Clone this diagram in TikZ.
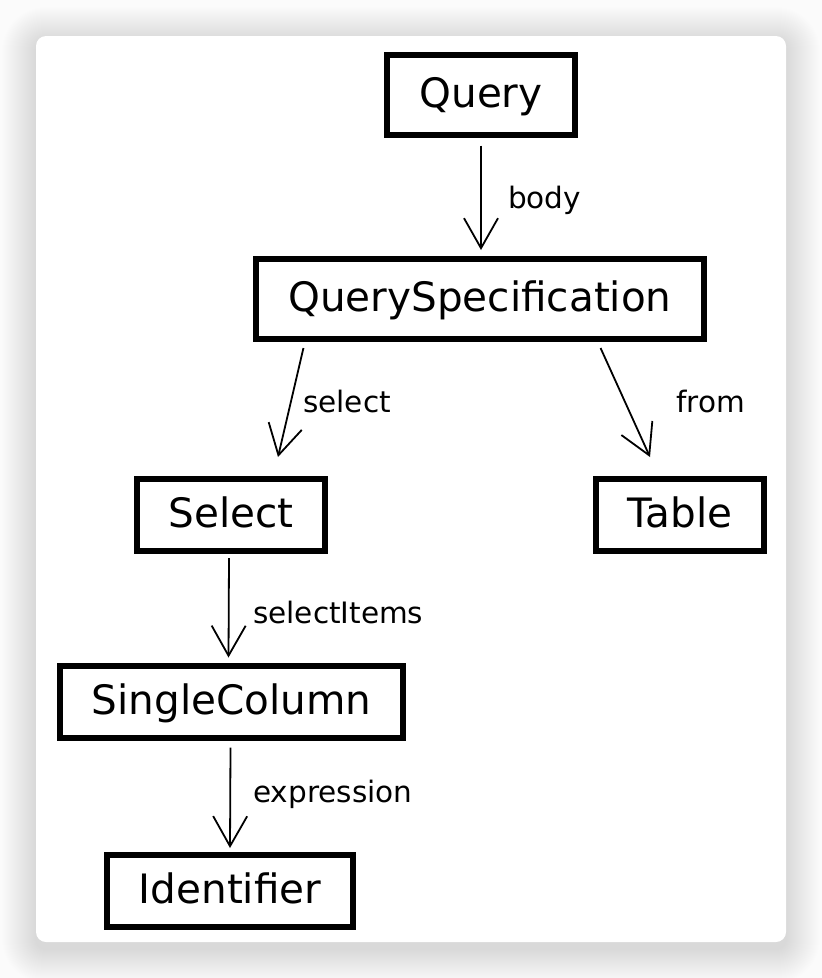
\documentclass[tikz,border=0pt]{standalone}
\usepackage{fontspec}
\setmainfont{DejaVu Sans}
\usetikzlibrary{arrows.meta,positioning,calc}

\begin{document}
\begin{tikzpicture}[
    x=1pt,
    y=-1pt,
    >={Straight Barb[length=30pt,width=34pt]},
    astnode/.style={draw, line width=6pt, fill=white, inner xsep=32pt, inner ysep=0pt,
      minimum height=72pt, text height=30pt, text depth=5pt,
      font=\fontsize{40.5}{48}\selectfont},
    edge/.style={->, line width=1.8pt},
    edgelbl/.style={anchor=base west, inner sep=0pt, font=\fontsize{29.5}{35}\selectfont},
  ]

  % === Page and card ===
  \useasboundingbox (0,0) rectangle (822,978);
  \fill[gray!3] (0,0) rectangle (822,978);
  \foreach \i in {1,...,34} {
    \pgfmathsetmacro\rr{10+\i}
    \fill[black, opacity=0.0042, rounded corners=\rr pt]
      ({36-\i},{41-\i}) rectangle ({786+\i},{949+\i});
  }
  \fill[white, rounded corners=10pt] (36,36) rectangle (786,942);

  % === AST nodes ===
  \node[astnode, minimum height=80pt] (query) at (481,94.5) {Query};
  \node[astnode, minimum height=80pt] (qspec) at (480,299) {QuerySpecification};
  \node[astnode] (sel) at (231,515) {Select};
  \node[astnode] (tbl) at (680,514.5) {Table};
  \node[astnode] (single) at (231.5,701.5) {SingleColumn};
  \node[astnode] (ident) at (230,890.5) {Identifier};

  % === Edges ===
  \draw[edge, shorten <=8pt, shorten >=6pt] (query) -- (query |- qspec.north);
  \draw[edge] ([xshift=50pt,yshift=-6pt]qspec.south west) -- ([xshift=47pt,yshift=19pt]sel.north);
  \draw[edge] ([xshift=-106pt,yshift=-6pt]qspec.south east) -- ([xshift=-30pt,yshift=18.5pt]tbl.north);
  \draw[edge] ([xshift=-2pt,yshift=-4pt]sel.south) -- ([xshift=-3pt,yshift=5pt]single.north);
  \draw[edge] ([xshift=-1pt,yshift=-7pt]single.south) -- ([yshift=3.5pt]ident.north);

  % Edge labels
  \node[edgelbl] (lbody) at (508,208) {body};
  \node[edgelbl] (lselect) at (303,412) {select};
  \node[edgelbl] (lfrom) at (676,412) {from};
  \node[edgelbl] (litems) at (253,623) {selectItems};
  \node[edgelbl] (lexpr) at (253,802) {expression};

\end{tikzpicture}
\end{document}
